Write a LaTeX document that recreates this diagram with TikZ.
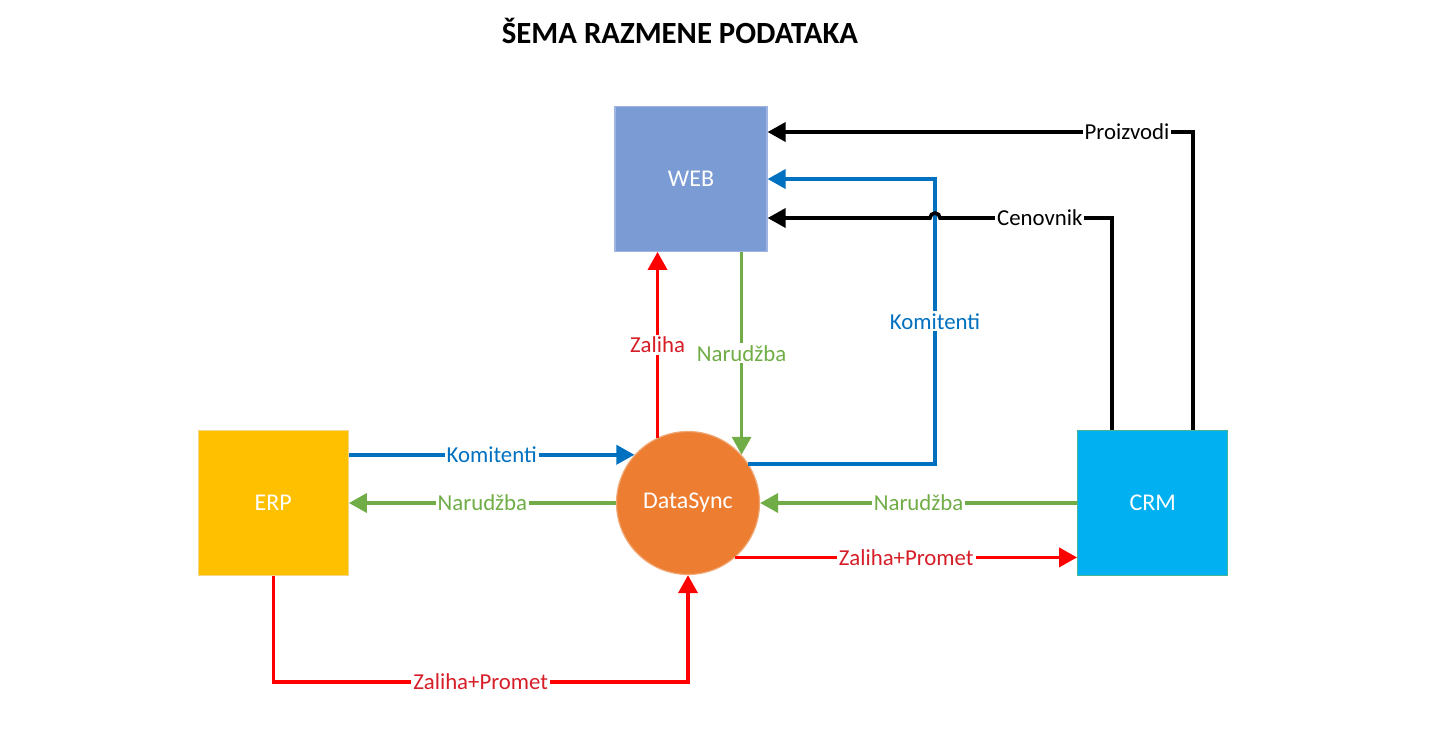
\documentclass[tikz,border=0pt]{standalone}
\usepackage{fontspec}
\setmainfont{Carlito}
\usetikzlibrary{arrows.meta,positioning}

\definecolor{webblue}{RGB}{122,155,212}
\definecolor{webline}{RGB}{160,180,225}
\definecolor{erpyellow}{RGB}{255,192,0}
\definecolor{erpline}{RGB}{240,215,140}
\definecolor{crmcyan}{RGB}{0,176,240}
\definecolor{crmline}{RGB}{70,180,150}
\definecolor{syncorange}{RGB}{237,125,49}
\definecolor{syncline}{RGB}{240,170,120}
\definecolor{komblue}{RGB}{0,112,192}
\definecolor{nargreen}{RGB}{112,173,71}
\definecolor{zalred}{RGB}{255,0,0}
\definecolor{lblred}{RGB}{214,30,40}

\begin{document}
\begin{tikzpicture}[
    x=0.5pt, y=-0.5pt,
    font=\fontsize{11.4}{13}\selectfont,
    system/.style={rectangle,draw,line width=0.6pt,minimum width=75pt,minimum height=72.5pt,text=white,font=\fontsize{12}{14}\selectfont},
    hub/.style={circle,draw=syncline,fill=syncorange,line width=0.6pt,minimum size=71.5pt,text=white,font=\fontsize{12}{14}\selectfont},
    flow/.style={line width=1.8pt,-{Triangle[length=9pt,width=9.5pt]}},
    lbl/.style={fill=white,inner sep=1pt},
]

\useasboundingbox (0,0) rectangle (1440,735);

\node[font=\bfseries\fontsize{15.4}{18}\selectfont] (title) at (680,31) {ŠEMA RAZMENE PODATAKA};

%----------------------------------
% Systems
%----------------------------------

\node[hub] (sync) at (688,503) {DataSync};

\node[system,fill=erpyellow,draw=erpline,left=133.5pt of sync] (erp) {ERP};
\node[system,fill=crmcyan,draw=crmline,right=158.5pt of sync] (crm) {CRM};
\node[system,fill=webblue,draw=webline,minimum width=76pt,above=89.5pt of sync,xshift=1.5pt] (web) {WEB};

\coordinate (prodTop) at (1193,132);
\coordinate (cenTop) at (1112,218);
\coordinate (jump) at (935,218);
\coordinate (komX) at (935,179);
\coordinate (zpBot) at (275,682);

%----------------------------------
% DataSync <-> WEB
%----------------------------------

\draw[flow,zalred] (sync.115) -- node[lbl,text=lblred] {Zaliha} (sync.115 |- web.south);
\draw[flow,nargreen] (web.south -| sync.42) -- node[lbl] {Narudžba} (sync.42);
\draw[flow,komblue] (sync.33) -| node[lbl,pos=0.75] {Komitenti} (komX) -- (komX -| web.east);

%----------------------------------
% ERP <-> DataSync
%----------------------------------

\draw[flow,komblue] (erp.east |- sync.138) -- node[lbl] {Komitenti} (sync.138);
\draw[flow,nargreen] (sync.west) -- node[lbl] {Narudžba} (erp.east);
\draw[flow,zalred] (erp.south) -- (erp.south |- zpBot) -| node[lbl,text=lblred,pos=0.25] {Zaliha+Promet} (sync.south);

%----------------------------------
% CRM <-> DataSync, CRM -> WEB
%----------------------------------

\draw[flow,nargreen] (crm.west) -- node[lbl] {Narudžba} (sync.east);
\draw[flow,zalred] (sync.-49) -- node[lbl,text=lblred] {Zaliha+Promet} (sync.-49 -| crm.west);

\draw[flow,black] (crm.north -| prodTop) -- (prodTop) -- node[lbl,pos=0.155] {Proizvodi} (prodTop -| web.east);
\draw[flow,black] (crm.north -| cenTop) -- (cenTop) -- node[lbl,pos=0.42] {Cenovnik} ([xshift=2.5pt]jump)
    arc[start angle=0,end angle=180,radius=2.5pt] -- (cenTop -| web.east);

\end{tikzpicture}
\end{document}
